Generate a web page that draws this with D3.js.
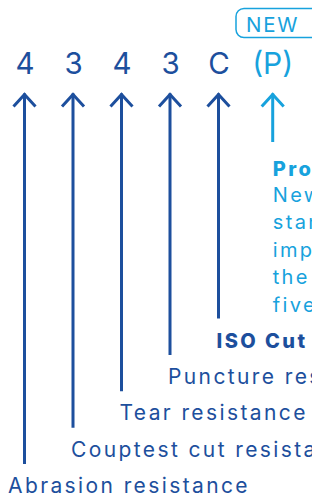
<!DOCTYPE html>
<html>
<head>
<meta charset="utf-8">
<script src="https://cdn.jsdelivr.net/npm/d3@7"></script>
<style>
html,body{margin:0;padding:0;background:#fff;overflow:hidden;}
svg{display:block;}
</style>
</head>
<body>
<script>
// ---- data ----
const codes = ["4", "3", "4", "3", "C"];
const labels = ["Abrasion resistance", "Couptest cut resistance", "Tear resistance", "Puncture resistance", "ISO Cut resistance"];
const labelBold = [false, false, false, false, true];
const newCode = "(P)";
const newBadge = "NEW";
const newTitle = "Protection against impact";
const newLines = ["New impact test for the", "standard EN 388:2016", "impact protection of", "the knuckles and", "five fingers"];

// ---- layout ----
const W = 312, H = 495;
const dark = "#1d4f9d", light = "#17a2dd";
const font = "Inter, 'Open Sans', sans-serif";

const svg = d3.select("body").append("svg").attr("width", W).attr("height", H);

// measure letter-spacing needed to mimic the wide geometric face
function spacingFor(str, size, weight, target) {
  const t = svg.append("text").attr("font-family", font).attr("font-size", size)
    .attr("font-weight", weight).text(str);
  const w = t.node().getComputedTextLength();
  t.remove();
  return (target - w) / str.length;
}
const lsReg = spacingFor("Abrasion resistance", 21, 400, 242);
const lsBold = spacingFor("ISO Cut", 20, 800, 91);
const lsDigit = 0;

const idx = d3.range(codes.length);
const x = d3.scaleLinear().domain([0, codes.length - 1]).range([24.5, 218.5]);
const xNew = x(codes.length - 1) + 54.2;
const yEnd = d3.scaleLinear().domain([0, codes.length - 1]).range([464, 318.5]);
const yLabel = d3.scaleLinear().domain([0, codes.length - 1]).range([493, 347.5]);
const arrowTop = 92.5, codeBase = 74;

function arrow(g, cx, y2, color) {
  g.append("line").attr("x1", cx).attr("x2", cx).attr("y1", arrowTop + 1).attr("y2", y2)
    .attr("stroke", color).attr("stroke-width", 3);
  g.append("path").attr("d", `M${cx - 11},${arrowTop + 14}L${cx},${arrowTop + 2}L${cx + 11},${arrowTop + 14}`)
    .attr("fill", "none").attr("stroke", color).attr("stroke-width", 3).attr("stroke-linejoin", "miter");
}

// codes
svg.selectAll("text.code").data(idx).join("text").attr("class", "code")
  .attr("x", d => x(d) + 0.5).attr("y", codeBase).attr("text-anchor", "middle")
  .attr("font-family", font).attr("font-size", 29.5).attr("fill", dark)
  .text(d => codes[d]);

idx.forEach(i => arrow(svg.append("g"), x(i), yEnd(i), dark));

// labels
svg.selectAll("text.label").data(idx).join("text").attr("class", "label")
  .attr("x", d => d === 0 ? 8 : x(d) - 2).attr("y", d => yLabel(d))
  .attr("font-family", font).attr("font-size", d => labelBold[d] ? 20 : 21)
  .attr("font-weight", d => labelBold[d] ? 800 : 400)
  .attr("letter-spacing", d => labelBold[d] ? lsBold : lsReg)
  .attr("fill", dark)
  .text(d => labels[d]);

// new (P)
svg.append("text").attr("x", xNew).attr("y", codeBase).attr("text-anchor", "middle")
  .attr("font-family", font).attr("font-size", 30).attr("fill", light).text(newCode);
arrow(svg.append("g"), xNew, 142, light);

svg.append("rect").attr("x", 236).attr("y", 8.5).attr("width", 90).attr("height", 29).attr("rx", 8)
  .attr("fill", "none").attr("stroke", light).attr("stroke-width", 1.5);
svg.append("text").attr("x", 246).attr("y", 32).attr("font-family", font).attr("font-size", 20.5)
  .attr("letter-spacing", 1.8).attr("fill", light).text(newBadge);

svg.append("text").attr("x", xNew).attr("y", 175.5).attr("font-family", font).attr("font-size", 20)
  .attr("font-weight", 800).attr("letter-spacing", lsBold).attr("fill", light).text(newTitle);
svg.selectAll("text.desc").data(newLines).join("text").attr("class", "desc")
  .attr("x", xNew).attr("y", (d, i) => 202 + i * 27.4)
  .attr("font-family", font).attr("font-size", 20).attr("letter-spacing", lsReg).attr("fill", light)
  .text(d => d);
</script>
</body>
</html>
